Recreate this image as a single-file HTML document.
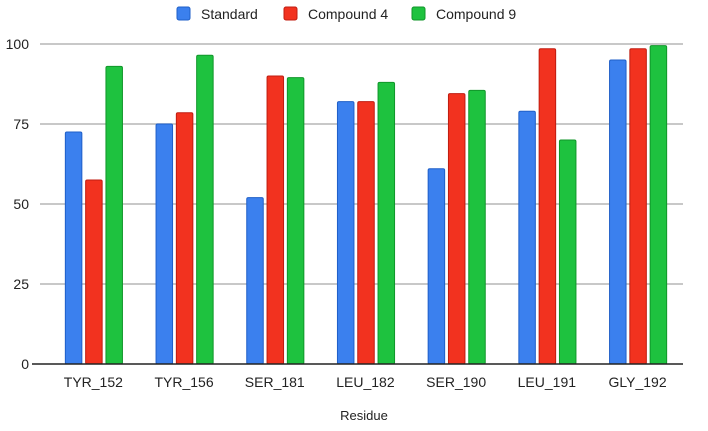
<!DOCTYPE html>
<html><head><meta charset="utf-8"><style>
body{margin:0;background:#fff;font-family:"Liberation Sans",sans-serif}
svg text{font-family:"Liberation Sans",sans-serif;fill:#222}
</style></head><body>
<svg width="708" height="426" id="c"></svg>
<script>
const categories=["TYR_152","TYR_156","SER_181","LEU_182","SER_190","LEU_191","GLY_192"];
const standard=[72.5,75,52,82,61,79,95];
const compound4=[57.5,78.5,90,82,84.5,98.5,98.5];
const compound9=[93,96.5,89.5,88,85.5,70,99.5];
const yTicks=[0,25,50,75,100];
const seriesNames=["Standard","Compound 4","Compound 9"];
const fills=["#3b80ee","#f2321f","#1ec23f"],strokes=["#1f5fc8","#c01c10","#10962a"];
const svg=document.getElementById('c'),NS="http://www.w3.org/2000/svg";
const x0=48,step=90.7,y0=364,yTop=44;
const ys=v=>y0-(v/100)*(y0-yTop);
function mk(t,a,p){const e=document.createElementNS(NS,t);for(const k in a)e.setAttribute(k,a[k]);(p||svg).appendChild(e);return e;}
yTicks.forEach(t=>{
 if(t>0){const g=mk('line',{x1:40,x2:683,y1:ys(t),y2:ys(t),stroke:'#b5b5b5','stroke-width':1.5});
 
 }
 const l=mk('text',{x:29,y:ys(t)+5,'text-anchor':'end','font-size':14});l.textContent=t;
 
 
});
const data=[standard,compound4,compound9];
categories.forEach((c,i)=>{
 const cx=x0+step*(i+0.5);
 data.forEach((s,j)=>{
  const bx=cx-28+j*20.3,top=ys(s[i]);
  const r=mk('rect',{x:bx,y:top,width:16.5,height:y0-top,fill:fills[j],stroke:strokes[j],'stroke-width':1,rx:1.5});
  
  
 });
 const t=mk('text',{x:cx,y:387,'text-anchor':'middle','font-size':14});t.textContent=c;
 
 
});
const ax=mk('line',{x1:32,x2:683,y1:y0,y2:y0,stroke:'#222','stroke-width':1.5});


const xt=mk('text',{x:364,y:420,'text-anchor':'middle','font-size':13});xt.textContent="Residue";


const lx=[177,284,412];
seriesNames.forEach((n,j)=>{
 const g=mk('g',{});
 
 
 mk('rect',{x:lx[j],y:7,width:13,height:13,fill:fills[j],stroke:strokes[j],rx:2},g);
 const t=mk('text',{x:lx[j]+24,y:19,'font-size':14},g);t.textContent=n;
});
</script>
</body></html>
